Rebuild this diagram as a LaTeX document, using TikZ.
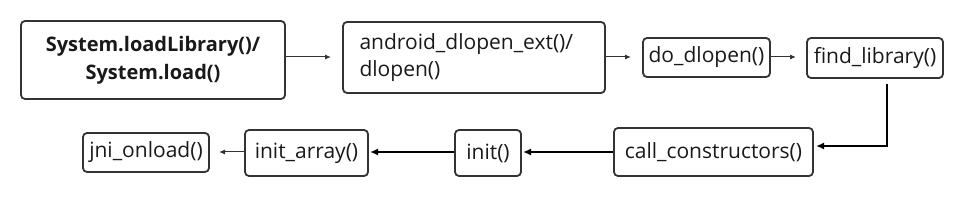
\documentclass[tikz,border=0pt]{standalone}
\usepackage{fontspec}
\setmainfont{Open Sans}
\usetikzlibrary{arrows.meta}
\begin{document}
\begin{tikzpicture}[x=1pt,y=-1pt,
  box/.style={draw=black!80,line width=1.8pt,rounded corners=4pt,inner sep=0pt},
  lbl/.style={font=\fontsize{21}{27}\selectfont,text=black!90},
  thin/.style={-{Latex[length=6pt,width=5pt]},line width=1pt,draw=black!80},
  thick/.style={-{Latex[length=8pt,width=7pt]},line width=2pt,draw=black}]
\useasboundingbox (0,0) rectangle (972,200);
% boxes
\node[box,minimum width=264pt,minimum height=78pt] (sys) at (153,60) {};
\node[lbl,font=\bfseries\fontsize{20}{28}\selectfont,align=center] at (sys.center) {System.loadLibrary()/\\System.load()};
\node[box,minimum width=262pt,minimum height=71pt] (adl) at (474,57.5) {};
\node[lbl,align=left,anchor=west] at (356,58) {android\_dlopen\_ext()/\\dlopen()};
\node[box,lbl,minimum width=127pt,minimum height=39pt] (dod) at (706.5,57.5) {do\_dlopen()};
\node[box,lbl,minimum width=136pt,minimum height=40pt] (fl) at (875,58) {find\_library()};
\node[box,lbl,minimum width=199pt,minimum height=48pt] (cc) at (713.5,152) {call\_constructors()};
\node[box,lbl,minimum width=66pt,minimum height=46pt] (ini) at (488,153) {init()};
\node[box,lbl,minimum width=123pt,minimum height=46pt] (ia) at (306.5,153) {init\_array()};
\node[box,lbl,minimum width=126pt,minimum height=39pt] (jni) at (146,152.5) {jni\_onload()};
% connectors
\coordinate (a1) at (331,57);
\coordinate (a2) at (631,57);
\coordinate (a3) at (796,57);
\draw[thin] (sys.east |- a1) -- (a1);
\draw[thin] (adl.east |- a2) -- (a2);
\draw[thin] (dod.east |- a3) -- (a3);
\coordinate (b0) at (887,84);
\coordinate (b1) at (887,146);
\coordinate (b2) at (816,146);
\draw[thick] (b0) -- (b1) -- (b2);
\coordinate (c1) at (523,152);
\draw[thick] (cc.west |- c1) -- (c1);
\coordinate (c2) at (370,152);
\draw[thick] (ini.west |- c2) -- (c2);
\coordinate (c3) at (219,152);
\draw[thin] (ia.west |- c3) -- (c3);
\end{tikzpicture}
\end{document}
